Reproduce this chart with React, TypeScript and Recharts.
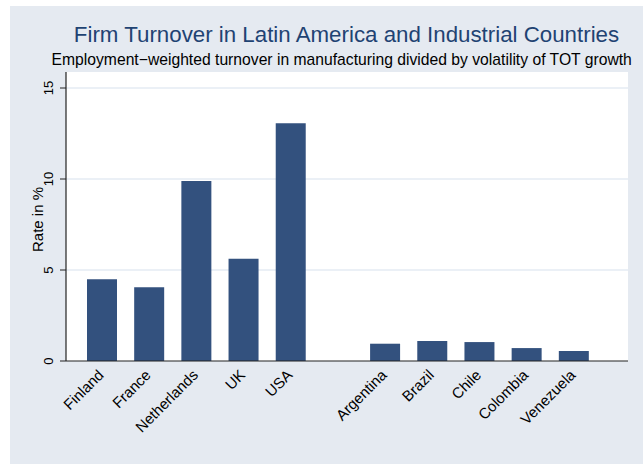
import React from "react";
import { BarChart, Bar, XAxis, YAxis, CartesianGrid, Label } from "recharts";

const industrialCountries = ["Finland", "France", "Netherlands", "UK", "USA"];
const industrialRates = [4.49, 4.05, 9.89, 5.62, 13.06];
const latinCountries = ["Argentina", "Brazil", "Chile", "Colombia", "Venezuela"];
const latinRates = [0.95, 1.1, 1.04, 0.71, 0.55];
const yTicks = [0, 5, 10, 15];

const TITLE = "Firm Turnover in Latin America and Industrial Countries";
const SUBTITLE =
  "Employment\u2212weighted turnover in manufacturing divided by volatility of TOT growth";

const FONT = "'Liberation Sans', Arial, Helvetica, sans-serif";
const BAR = "#33517e";
const BG = "#e5eaf1";

// blank category between the two groups, like Stata's over() gap
const data = [
  ...industrialCountries.map((c, i) => ({ country: c, rate: industrialRates[i] })),
  { country: " ", rate: null },
  ...latinCountries.map((c, i) => ({ country: c, rate: latinRates[i] })),
];

function XTick({ x, y, payload }: any) {
  if (!payload.value.trim()) return null;
  const px = x + 3;
  const py = y + 13;
  return (
    <text
      x={px}
      y={py}
      transform={`rotate(-45 ${px} ${py})`}
      textAnchor="end"
      fontSize={15}
      fontFamily={FONT}
      fill="#000"
    >
      {payload.value}
    </text>
  );
}

function YTick({ x, y, payload }: any) {
  return (
    <text
      x={x}
      y={y}
      transform={`rotate(-90 ${x} ${y})`}
      textAnchor="middle"
      fontSize={13}
      fontFamily={FONT}
      fill="#000"
    >
      {payload.value}
    </text>
  );
}

function YLabel({ viewBox }: any) {
  const x = viewBox.x + viewBox.width - 23;
  const y = viewBox.y + viewBox.height / 2 + 3;
  return (
    <text
      x={x}
      y={y}
      transform={`rotate(-90 ${x} ${y})`}
      textAnchor="middle"
      fontSize={15}
      fontFamily={FONT}
      fill="#000"
    >
      Rate in %
    </text>
  );
}

export default function App() {
  return (
    <div
      style={{
        position: "absolute",
        left: 0,
        top: 0,
        width: 643,
        height: 464,
        background: "#fff",
        overflow: "hidden",
      }}
    >
      <div
        style={{
          position: "absolute",
          left: 10,
          top: 6,
          right: 0,
          bottom: 0,
          background: BG,
        }}
      />
      <div style={{ position: "absolute", left: 0, top: 0 }}>
        <BarChart
          width={643}
          height={464}
          data={data}
          margin={{ top: 72, right: 15, left: 16, bottom: 13 }}
        >
          <CartesianGrid
            vertical={false}
            fill="#fff"
            stroke="#e4ebf3"
            strokeWidth={1.3}
            horizontalValues={[5, 10, 15]}
          />
          <XAxis
            dataKey="country"
            height={90}
            padding={{ left: 12, right: 31 }}
            tickLine={false}
            tickSize={0}
            tick={<XTick />}
            interval={0}
            axisLine={{ stroke: "#222", strokeWidth: 1.2 }}
          />
          <YAxis
            width={50}
            domain={[0, 15.88]}
            ticks={yTicks}
            tickSize={6}
            tickMargin={7}
            tick={<YTick />}
            tickLine={{ stroke: "#222" }}
            axisLine={{ stroke: "#222", strokeWidth: 1.2 }}
          >
            <Label content={<YLabel />} />
          </YAxis>
          <Bar dataKey="rate" fill={BAR} barSize={30} isAnimationActive={false} />
        </BarChart>
      </div>
      <svg
        width={643}
        height={464}
        style={{ position: "absolute", left: 0, top: 0, pointerEvents: "none" }}
      >
        <text
          x={346.5}
          y={42}
          textAnchor="middle"
          fontSize={22.3}
          fontFamily={FONT}
          fill="#1f4373"
        >
          {TITLE}
        </text>
        <text
          x={341.7}
          y={65}
          textAnchor="middle"
          fontSize={15.7}
          fontFamily={FONT}
          fill="#000"
        >
          {SUBTITLE}
        </text>
      </svg>
    </div>
  );
}
